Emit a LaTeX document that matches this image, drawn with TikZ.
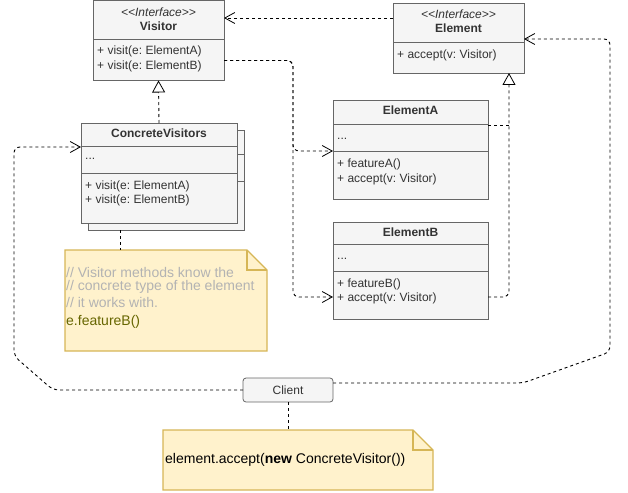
\documentclass[tikz,border=0pt]{standalone}
\usepackage{fontspec}
\setmainfont{Liberation Sans}
\usetikzlibrary{arrows.meta}
\definecolor{boxfill}{HTML}{F5F5F5}
\definecolor{boxline}{HTML}{666666}
\definecolor{notefill}{HTML}{FFF2CC}
\definecolor{noteline}{HTML}{D6B656}
\definecolor{txtc}{HTML}{333333}
\definecolor{cmtc}{HTML}{B3B3B3}
\definecolor{olivec}{HTML}{666600}
\frenchspacing
\begin{document}
\begin{tikzpicture}[x=1pt,y=-1pt,
  box/.style={draw=boxline, fill=boxfill, line width=0.8pt, anchor=north west, inner sep=0pt, outer sep=0pt},
  divl/.style={draw=boxline, line width=0.8pt},
  lbl/.style={anchor=west, inner sep=0pt, text=txtc, font=\fontsize{12}{15}\selectfont\frenchspacing},
  ttl/.style={anchor=center, inner sep=0pt, text=txtc, font=\fontsize{12}{15}\selectfont\bfseries},
  stereo/.style={anchor=center, inner sep=0pt, text=txtc, font=\fontsize{12}{15}\selectfont\itshape},
  notebox/.style={anchor=north west, inner sep=0pt, outer sep=0pt},
  noteshape/.style={draw=noteline, fill=notefill, line width=1.2pt, line join=miter},
  cmt/.style={anchor=west, inner sep=0pt, text=cmtc, font=\fontsize{14}{15}\selectfont\frenchspacing},
  conn/.style={draw=black, line width=0.9pt, dash pattern=on 3pt off 3pt, rounded corners=6pt},
  dep/.style={conn, -{Straight Barb[length=10pt,width=11pt,line width=0.8pt]}},
  real/.style={conn, -{Triangle[length=12pt,width=13pt,fill=white,line width=0.8pt]}}
]
\useasboundingbox (0,0) rectangle (628,492);

% ---------- Visitor ----------
\node[box, minimum width=131pt, minimum height=80pt] (visitor) at (93,0.5) {};
\draw[divl] (93,39) -- (224,39);
\node[stereo] (vst) at (158.5,12) {<\kern0pt<Interface>\kern0pt>};
\node[ttl] (vtt) at (158.5,26) {Visitor};
\node[lbl] (v1) at (97,51) {+ visit(e: ElementA)};
\node[lbl] (v2) at (97,66) {+ visit(e: ElementB)};

% ---------- Element ----------
\node[box, minimum width=131pt, minimum height=70pt] (element) at (393,3) {};
\draw[divl] (393,42) -- (524,42);
\node[stereo] (est) at (458.5,14) {<\kern0pt<Interface>\kern0pt>};
\node[ttl] (ett) at (458.5,28) {Element};
\node[lbl] (e1) at (397,55) {+ accept(v: Visitor)};

% ---------- ConcreteVisitors ----------
\node[box, minimum width=156pt, minimum height=100pt] (cvb) at (88,130) {};
\draw[divl] (88,154) -- (244,154);
\draw[divl] (88,181) -- (244,181);
\node[box, minimum width=156pt, minimum height=100pt] (cv) at (81,123) {};
\draw[divl] (81,146) -- (237,146);
\draw[divl] (81,173) -- (237,173);
\node[ttl] (cvt) at (159,133) {ConcreteVisitors};
\node[lbl] (cvd) at (85,159) {...};
\node[lbl] (cv1) at (85,186) {+ visit(e: ElementA)};
\node[lbl] (cv2) at (85,200) {+ visit(e: ElementB)};

% ---------- ElementA ----------
\node[box, minimum width=155pt, minimum height=99pt] (ea) at (333,100) {};
\draw[divl] (333,124) -- (488,124);
\draw[divl] (333,151) -- (488,151);
\node[ttl] (eat) at (410.5,110) {ElementA};
\node[lbl] (ead) at (337,139) {...};
\node[lbl] (ea1) at (337,164) {+ featureA()};
\node[lbl] (ea2) at (337,179) {+ accept(v: Visitor)};

% ---------- ElementB ----------
\node[box, minimum width=155pt, minimum height=97pt] (eb) at (333,222) {};
\draw[divl] (333,244) -- (488,244);
\draw[divl] (333,271) -- (488,271);
\node[ttl] (ebt) at (410.5,232) {ElementB};
\node[lbl] (ebd) at (337,259) {...};
\node[lbl] (eb1) at (337,284) {+ featureB()};
\node[lbl] (eb2) at (337,298) {+ accept(v: Visitor)};

% ---------- Client ----------
\node[draw=boxline, fill=boxfill, line width=0.8pt, rounded corners=3pt, minimum width=90pt, minimum height=24pt, inner sep=0pt, outer sep=0pt, text=txtc, font=\fontsize{12}{15}\selectfont] (client) at (288,390) {Client};

% ---------- Note 1 ----------
\node[notebox, minimum width=202pt, minimum height=101pt] (n1) at (65,250) {};
\draw[noteshape] (n1.north west) -- ([xshift=-20pt]n1.north east) -- ([yshift=-20pt]n1.north east) -- (n1.south east) -- (n1.south west) -- cycle;
\draw[noteshape, fill=none] ([xshift=-20pt]n1.north east) -- ([xshift=-20pt,yshift=-20pt]n1.north east) -- ([yshift=-20pt]n1.north east);
\node[cmt] (c1) at (66,272) {// Visitor methods know the};
\node[cmt] (c2) at (66,287) {// concrete type of the element};
\node[cmt] (c3) at (66,302) {// it works with.};
\node[cmt, text=olivec] (c4) at (66,322) {e.featureB()};

% ---------- Note 2 ----------
\node[notebox, minimum width=270pt, minimum height=60pt] (n2) at (163,430) {};
\draw[noteshape] (n2.north west) -- ([xshift=-20pt]n2.north east) -- ([yshift=-20pt]n2.north east) -- (n2.south east) -- (n2.south west) -- cycle;
\draw[noteshape, fill=none] ([xshift=-20pt]n2.north east) -- ([xshift=-20pt,yshift=-20pt]n2.north east) -- ([yshift=-20pt]n2.north east);
\node[cmt, text=black] (n2t) at (165,460) {element.accept(\textbf{new} ConcreteVisitor())};

% ---------- Connectors ----------
\draw[dep] ([yshift=-15pt]element.north west) -- ([yshift=-17.5pt]visitor.north east);
\draw[real] (cv.north) -- (visitor.south);
\draw[dep] ([yshift=20pt]visitor.south east) -- ++(69,0) |- (ea.south west |- 0,151);
\draw[dep] ([yshift=20pt]visitor.south east) -- ++(69,0) |- ([yshift=22pt]eb.south west);
\draw[conn] ([yshift=-25pt]ea.north east) -- ++(21,0);
\draw[real] ([yshift=22pt]eb.south east) -| ([xshift=-15pt]element.south east);
\draw[conn] ([xshift=32pt]cvb.south west) -- ([xshift=55pt]n1.north west);
\draw[conn] (client.south) -- (client.south |- n2.north);
\draw[dep] (client.west) -- ++(-190,0) -- ++(-39,-34) |- ([yshift=-24pt]cv.north west);
\draw[dep] ([yshift=7pt]client.east) -- ++(190,0) -- ++(87,-31) |- ([yshift=-36pt]element.north east);
\end{tikzpicture}
\end{document}
